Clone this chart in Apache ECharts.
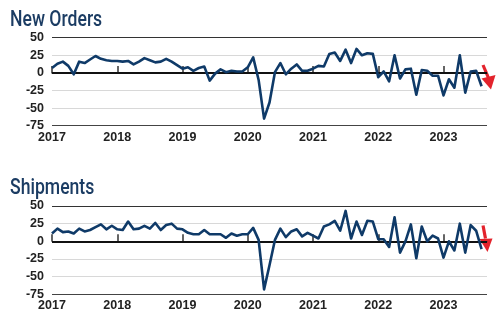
<!DOCTYPE html>
<html>
<head>
<meta charset="utf-8">
<script src="https://cdn.jsdelivr.net/npm/echarts@6/dist/echarts.min.js"></script>
<style>
  html, body { margin: 0; padding: 0; background: #ffffff; }
  #chart { width: 500px; height: 326px; }
</style>
</head>
<body>
<div id="chart"></div>
<script>
// Monthly diffusion readings, Jan 2017 .. Aug 2023
const startYear = 2017;
const monthCount = 81; // axis runs one month past the last reading

const newOrders = [
  7, 13, 16, 10, -2, 16, 14, 19, 24, 20, 18, 17,
  17, 16, 17, 12, 16, 21, 18, 15, 16, 20, 16, 11,
  6, 8, 3, 7, 9, -11, -1, 5, 1, 3, 2, 2,
  8, 22, -10, -65, -42, 1, 14, -2, 6, 12, 3, 3,
  6, 10, 9, 27, 29, 17, 33, 14, 34, 25, 28, 27,
  -6, 2, -12, 25, -8, 5, 6, -31, 4, 3, -4, -4,
  -32, -9, -21, 25, -28, 2, 3, -19
];

const shipments = [
  11, 18, 13, 14, 11, 18, 14, 16, 20, 24, 17, 22,
  17, 16, 28, 17, 18, 22, 18, 26, 16, 23, 25, 18,
  17, 12, 10, 10, 16, 10, 10, 10, 5, 11, 8, 10,
  10, 19, 2, -68, -34, 2, 18, 6, 14, 17, 7, 12,
  8, 4, 21, 24, 29, 15, 43, 4, 28, 9, 29, 28,
  3, 3, -8, 34, -16, 0, 24, -24, 21, 0, 8, 4,
  -23, 0, -13, 25, -16, 23, 15, -11
];

const panelTitles = ['New Orders', 'Shipments'];
const yTicks = { min: -75, max: 50, step: 25 };

const months = [];
for (let i = 0; i < monthCount; i++) {
  const y = startYear + Math.floor(i / 12);
  const m = (i % 12) + 1;
  months.push(y + '-' + (m < 10 ? '0' + m : m));
}

const navy = '#0f3a68';
const titleColor = '#1b3c63';
const labelFont = 'Liberation Sans, Arial, sans-serif';
const isYearStart = (idx) => idx % 12 === 0;

const panels = [
  { top: 37.7, height: 88 },
  { top: 206, height: 88.3 }
];

function xAxisFor(gridIndex) {
  return {
    type: 'category',
    gridIndex,
    data: months,
    boundaryGap: false,
    axisLine: { show: true, lineStyle: { color: '#444', width: 1 } },
    axisTick: {
      show: true, inside: true, length: 7,
      interval: (idx) => isYearStart(idx),
      lineStyle: { color: '#333', width: 1.5 }
    },
    axisLabel: {
      interval: (idx) => isYearStart(idx),
      formatter: (v) => v.slice(0, 4),
      color: '#222', fontFamily: labelFont, fontWeight: 'bold', fontSize: 12.5,
      margin: 5
    },
    splitLine: { show: false }
  };
}

function yAxisFor(gridIndex) {
  return {
    type: 'value',
    gridIndex,
    min: yTicks.min, max: yTicks.max, interval: yTicks.step,
    axisLine: { show: false },
    axisTick: { show: false },
    axisLabel: {
      color: '#222', fontFamily: labelFont, fontWeight: 'bold', fontSize: 12.5,
      margin: 8
    },
    splitLine: {
      show: true,
      lineStyle: {
        color: ['#444', '#d8d8d8', '#d8d8d8', '#d8d8d8', '#d8d8d8', '#333'],
        width: 1
      }
    }
  };
}

function seriesFor(idx, values) {
  return {
    type: 'line',
    xAxisIndex: idx, yAxisIndex: idx,
    data: values,
    showSymbol: false,
    symbol: 'none',
    lineStyle: { color: navy, width: 2.6, join: 'round' },
    silent: true,
    z: 3,
    markLine: {
      silent: true,
      symbol: 'none',
      label: { show: false },
      lineStyle: { color: '#111', width: 2, type: 'solid' },
      data: [{ yAxis: 0 }],
      z: 2
    }
  };
}

// Condensed panel heading drawn as text, squeezed horizontally
function panelHeading(text, x, top) {
  return {
    type: 'text',
    x: x, y: top,
    scaleX: 0.8,
    style: {
      text: text,
      fill: titleColor,
      font: '500 22px Roboto, "Noto Sans", sans-serif',
      textVerticalAlign: 'top',
      textAlign: 'left'
    }
  };
}

// Red down-trend arrows at the right end of each panel
function downArrow(shaft, head) {
  return [
    {
      type: 'line',
      shape: { x1: shaft[0], y1: shaft[1], x2: shaft[2], y2: shaft[3] },
      style: { stroke: '#e3232c', lineWidth: 3.2 }
    },
    {
      type: 'polygon',
      shape: { points: head },
      style: { fill: '#e3232c' }
    }
  ];
}

const chart = echarts.init(document.getElementById('chart'), null, { renderer: 'canvas' });

chart.setOption({
  animation: false,
  backgroundColor: '#ffffff',
  grid: panels.map(p => ({ left: 52, right: 13, top: p.top, height: p.height, containLabel: false })),
  xAxis: [xAxisFor(0), xAxisFor(1)],
  yAxis: [yAxisFor(0), yAxisFor(1)],
  series: [seriesFor(0, newOrders), seriesFor(1, shipments)],
  graphic: [
    panelHeading(panelTitles[0], 10, 9),
    panelHeading(panelTitles[1], 10, 177.5),
    ...downArrow([483, 65, 488.5, 78], [[481.5, 78.5], [495.5, 75], [491, 89.5]]),
    ...downArrow([483, 225.5, 485.5, 238.5], [[479.5, 239], [492.5, 238.5], [487.5, 252]])
  ]
});
</script>
</body>
</html>
